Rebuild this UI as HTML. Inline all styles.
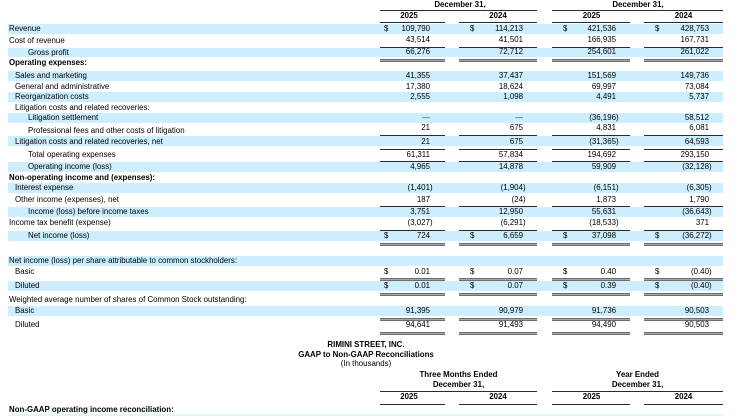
<!DOCTYPE html>
<html><head><meta charset="utf-8"><style>
*{margin:0;padding:0;box-sizing:border-box}
html,body{width:737px;height:416px;overflow:hidden;background:#fff}
#p{position:relative;width:737px;height:416px;overflow:hidden;font-family:"Liberation Sans",Arial,sans-serif;font-size:7.9px;line-height:10px;color:#000;background:#fff}
.b{position:absolute;left:8px;width:715px;height:10px;background:#cceeff}
.r{position:absolute;left:0;width:737px;height:10px}
.r>div{position:absolute;top:0;white-space:nowrap}
.l0{left:9px}.l1{left:15px}.l2{left:28px}
.bo{font-weight:bold}
.d1{left:384px}.d2{left:470px}.d3{left:563px}.d4{left:655px}
.c1{right:307px}.c2{right:214px}.c3{right:121px}.c4{right:28px}
.p{margin-right:-2.6px}
.k1{left:359px;width:100px;text-align:center}
.k2{left:448px;width:100px;text-align:center}
.k3{left:541.5px;width:100px;text-align:center}
.k4{left:633.5px;width:100px;text-align:center}
.L,.D{position:absolute;left:0;width:737px;height:3px}
.L i{position:absolute;top:0;height:1px;background:#2a2a2a}
.D i{position:absolute;top:0;height:3px;border-top:1px solid #6e6e6e;border-bottom:1px solid #6e6e6e;background:#a8a8a8}
.s1{left:380px;width:65px}.s2{left:459px;width:78px}.s3{left:552px;width:78px}.s4{left:644px;width:79px}
.g1{left:380px;width:157px}.g2{left:552px;width:171px}
</style></head><body><div id="p">

<!-- bands -->
<div class="b" style="top:24px"></div>
<div class="b" style="top:48px;height:9px"></div>
<div class="b" style="top:71px"></div>
<div class="b" style="top:92px"></div>
<div class="b" style="top:113px"></div>
<div class="b" style="top:136px"></div>
<div class="b" style="top:162px"></div>
<div class="b" style="top:183px"></div>
<div class="b" style="top:207px"></div>
<div class="b" style="top:231px"></div>
<div class="b" style="top:256px"></div>
<div class="b" style="top:281px"></div>
<div class="b" style="top:306px"></div>
<div class="b" style="top:414px;height:2px;background:#e3f5fd"></div>

<!-- lines -->
<div class="L" style="top:10px"><i class="g1"></i><i class="g2"></i></div>
<div class="L" style="top:22px"><i class="s1"></i><i class="s2"></i><i class="s3"></i><i class="s4"></i></div>
<div class="L" style="top:47px"><i class="s1"></i><i class="s2"></i><i class="s3"></i><i class="s4"></i></div>
<div class="D" style="top:59px"><i class="s1"></i><i class="s2"></i><i class="s3"></i><i class="s4"></i></div>
<div class="L" style="top:135px"><i class="s1"></i><i class="s2"></i><i class="s3"></i><i class="s4"></i></div>
<div class="L" style="top:149px"><i class="s1"></i><i class="s2"></i><i class="s3"></i><i class="s4"></i></div>
<div class="L" style="top:161px"><i class="s1"></i><i class="s2"></i><i class="s3"></i><i class="s4"></i></div>
<div class="L" style="top:206px"><i class="s1"></i><i class="s2"></i><i class="s3"></i><i class="s4"></i></div>
<div class="L" style="top:230px"><i class="s1"></i><i class="s2"></i><i class="s3"></i><i class="s4"></i></div>
<div class="D" style="top:243px"><i class="s1"></i><i class="s2"></i><i class="s3"></i><i class="s4"></i></div>
<div class="D" style="top:278px"><i class="s1"></i><i class="s2"></i><i class="s3"></i><i class="s4"></i></div>
<div class="D" style="top:293px"><i class="s1"></i><i class="s2"></i><i class="s3"></i><i class="s4"></i></div>
<div class="D" style="top:318px"><i class="s1"></i><i class="s2"></i><i class="s3"></i><i class="s4"></i></div>
<div class="D" style="top:332px"><i class="s1"></i><i class="s2"></i><i class="s3"></i><i class="s4"></i></div>
<div class="L" style="top:391px"><i class="g1"></i><i class="g2"></i></div>
<div class="L" style="top:404px"><i class="s1"></i><i class="s2"></i><i class="s3"></i><i class="s4"></i></div>

<!-- header -->
<div class="r bo" style="top:0px"><div style="left:410px;width:100px;text-align:center">December 31,</div><div style="left:588px;width:100px;text-align:center">December 31,</div></div>
<div class="r bo" style="top:11px"><div class="k1">2025</div><div class="k2">2024</div><div class="k3">2025</div><div class="k4">2024</div></div>

<div class="r" style="top:24px"><div class="l0">Revenue</div><div class="d1">$</div><div class="c1">109,790</div><div class="d2">$</div><div class="c2">114,213</div><div class="d3">$</div><div class="c3">421,536</div><div class="d4">$</div><div class="c4">428,753</div></div>
<div class="r" style="top:35px"><div class="l0" style="top:1px">Cost of revenue</div><div class="c1">43,514</div><div class="c2">41,501</div><div class="c3">166,935</div><div class="c4">167,731</div></div>
<div class="r" style="top:47px"><div class="l2" style="top:1px">Gross profit</div><div class="c1">66,276</div><div class="c2">72,712</div><div class="c3">254,601</div><div class="c4">261,022</div></div>
<div class="r" style="top:58px"><div class="l0 bo">Operating expenses:</div></div>
<div class="r" style="top:71px"><div class="l1">Sales and marketing</div><div class="c1">41,355</div><div class="c2">37,437</div><div class="c3">151,569</div><div class="c4">149,736</div></div>
<div class="r" style="top:81.5px"><div class="l1">General and administrative</div><div class="c1">17,380</div><div class="c2">18,624</div><div class="c3">69,997</div><div class="c4">73,084</div></div>
<div class="r" style="top:92px"><div class="l1">Reorganization costs</div><div class="c1">2,555</div><div class="c2">1,098</div><div class="c3">4,491</div><div class="c4">5,737</div></div>
<div class="r" style="top:102.5px"><div class="l1">Litigation costs and related recoveries:</div></div>
<div class="r" style="top:113px"><div class="l2">Litigation settlement</div><div class="c1" style="color:#333">—</div><div class="c2" style="color:#333">—</div><div class="c3 p">(36,196)</div><div class="c4">58,512</div></div>
<div class="r" style="top:123px"><div class="l2" style="top:2.5px">Professional fees and other costs of litigation</div><div class="c1">21</div><div class="c2">675</div><div class="c3">4,831</div><div class="c4">6,081</div></div>
<div class="r" style="top:136.5px"><div class="l1">Litigation costs and related recoveries, net</div><div class="c1">21</div><div class="c2">675</div><div class="c3 p">(31,365)</div><div class="c4">64,593</div></div>
<div class="r" style="top:150px"><div class="l2">Total operating expenses</div><div class="c1">61,311</div><div class="c2">57,834</div><div class="c3">194,692</div><div class="c4">293,150</div></div>
<div class="r" style="top:162px"><div class="l2">Operating income (loss)</div><div class="c1">4,965</div><div class="c2">14,878</div><div class="c3">59,909</div><div class="c4 p">(32,128)</div></div>
<div class="r" style="top:172.5px"><div class="l0 bo">Non-operating income and (expenses):</div></div>
<div class="r" style="top:183px"><div class="l1">Interest expense</div><div class="c1 p">(1,401)</div><div class="c2 p">(1,904)</div><div class="c3 p">(6,151)</div><div class="c4 p">(6,305)</div></div>
<div class="r" style="top:194.5px"><div class="l1">Other income (expenses), net</div><div class="c1">187</div><div class="c2 p">(24)</div><div class="c3">1,873</div><div class="c4">1,790</div></div>
<div class="r" style="top:206.5px"><div class="l2">Income (loss) before income taxes</div><div class="c1">3,751</div><div class="c2">12,950</div><div class="c3">55,631</div><div class="c4 p">(36,643)</div></div>
<div class="r" style="top:218px"><div class="l0">Income tax benefit (expense)</div><div class="c1 p">(3,027)</div><div class="c2 p">(6,291)</div><div class="c3 p">(18,533)</div><div class="c4">371</div></div>
<div class="r" style="top:231px"><div class="l2">Net income (loss)</div><div class="d1">$</div><div class="c1">724</div><div class="d2">$</div><div class="c2">6,659</div><div class="d3">$</div><div class="c3">37,098</div><div class="d4">$</div><div class="c4 p">(36,272)</div></div>

<div class="r" style="top:255.5px"><div class="l0">Net income (loss) per share attributable to common stockholders:</div></div>
<div class="r" style="top:266.5px"><div class="l1">Basic</div><div class="d1">$</div><div class="c1">0.01</div><div class="d2">$</div><div class="c2">0.07</div><div class="d3">$</div><div class="c3">0.40</div><div class="d4">$</div><div class="c4 p">(0.40)</div></div>
<div class="r" style="top:281px"><div class="l1">Diluted</div><div class="d1">$</div><div class="c1">0.01</div><div class="d2">$</div><div class="c2">0.07</div><div class="d3">$</div><div class="c3">0.39</div><div class="d4">$</div><div class="c4 p">(0.40)</div></div>
<div class="r" style="top:294.5px"><div class="l0">Weighted average number of shares of Common Stock outstanding:</div></div>
<div class="r" style="top:306px"><div class="l1">Basic</div><div class="c1">91,395</div><div class="c2">90,979</div><div class="c3">91,736</div><div class="c4">90,503</div></div>
<div class="r" style="top:320px"><div class="l1">Diluted</div><div class="c1">94,641</div><div class="c2">91,493</div><div class="c3">94,490</div><div class="c4">90,503</div></div>

<!-- second table header -->
<div class="r bo" style="top:340px"><div style="left:216px;width:300px;text-align:center">RIMINI STREET, INC.</div></div>
<div class="r bo" style="top:349.5px"><div style="left:216px;width:300px;text-align:center">GAAP to Non-GAAP Reconciliations</div></div>
<div class="r" style="top:358.5px"><div style="left:216px;width:300px;text-align:center">(In thousands)</div></div>
<div class="r bo" style="top:370px"><div style="left:408.5px;width:100px;text-align:center">Three Months Ended</div><div style="left:587.5px;width:100px;text-align:center">Year Ended</div></div>
<div class="r bo" style="top:379.5px"><div style="left:408.5px;width:100px;text-align:center">December 31,</div><div style="left:587.5px;width:100px;text-align:center">December 31,</div></div>
<div class="r bo" style="top:392px"><div class="k1">2025</div><div class="k2">2024</div><div class="k3">2025</div><div class="k4">2024</div></div>
<div class="r" style="top:405px"><div class="l0 bo">Non-GAAP operating income reconciliation:</div></div>

</div></body></html>
